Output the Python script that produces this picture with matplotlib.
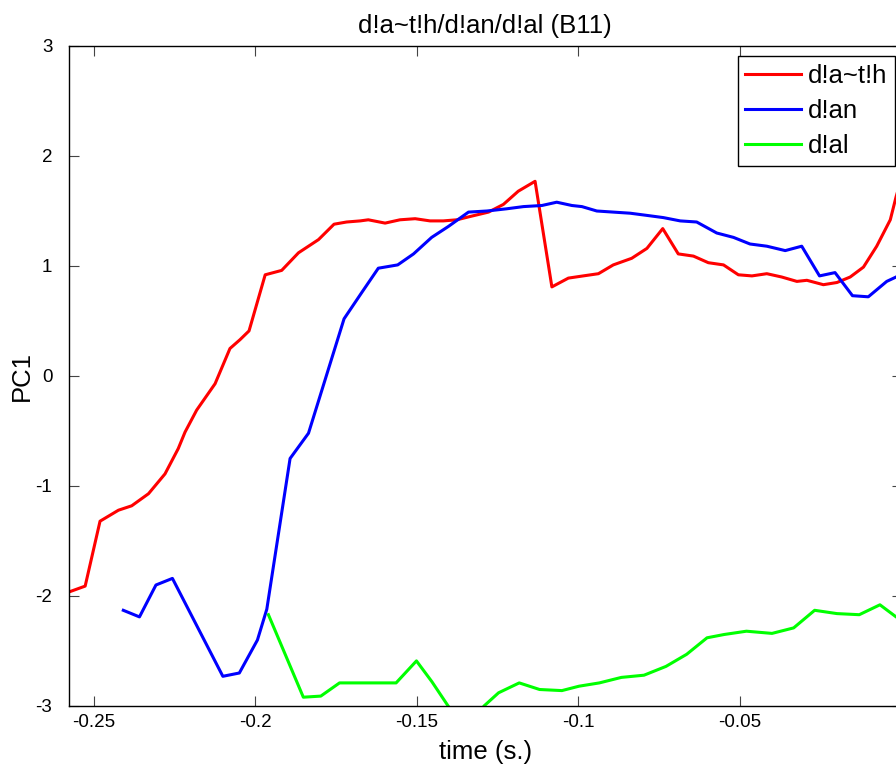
import numpy as np
import matplotlib
matplotlib.use("Agg")
import matplotlib.pyplot as plt

plt.rcParams["font.family"] = ["Liberation Sans", "DejaVu Sans"]
plt.rcParams["axes.unicode_minus"] = False

# d!a~t!h
t_red = [-0.2573, -0.2526, -0.2480, -0.2423, -0.2382, -0.2330, -0.2279, -0.2238,
         -0.2217, -0.2181, -0.2124, -0.2078, -0.2047, -0.2019, -0.1969, -0.1918,
         -0.1866, -0.1804, -0.1756, -0.1717, -0.1675, -0.1650, -0.1598, -0.1552,
         -0.1505, -0.1459, -0.1418, -0.1376, -0.1335, -0.1278, -0.1232, -0.1186,
         -0.1134, -0.1082, -0.1031, -0.0985, -0.0938, -0.0892, -0.0835, -0.0788,
         -0.0739, -0.0691, -0.0644, -0.0598, -0.0551, -0.0505, -0.0463, -0.0417,
         -0.0371, -0.0324, -0.0293, -0.0242, -0.0200, -0.0159, -0.0118, -0.0077,
         -0.0035, -0.0017, 0.0]
v_red = [-1.96, -1.91, -1.32, -1.22, -1.18, -1.07, -0.89, -0.66,
         -0.51, -0.31, -0.07, 0.25, 0.33, 0.41, 0.92, 0.96,
         1.12, 1.24, 1.38, 1.40, 1.41, 1.42, 1.39, 1.42,
         1.43, 1.41, 1.41, 1.42, 1.45, 1.49, 1.56, 1.68,
         1.77, 0.81, 0.89, 0.91, 0.93, 1.01, 1.07, 1.16,
         1.34, 1.11, 1.09, 1.03, 1.01, 0.92, 0.91, 0.93,
         0.90, 0.86, 0.87, 0.83, 0.85, 0.90, 0.99, 1.18,
         1.42, 1.63, 1.80]

# d!an
t_blue = [-0.2408, -0.2358, -0.2307, -0.2256, -0.2100, -0.2049, -0.1993, -0.1964,
          -0.1892, -0.1835, -0.1725, -0.1670, -0.1619, -0.1559, -0.1510, -0.1454,
          -0.1402, -0.1340, -0.1283, -0.1222, -0.1170, -0.1113, -0.1067, -0.1020,
          -0.0989, -0.0943, -0.0892, -0.0840, -0.0788, -0.0737, -0.0685, -0.0634,
          -0.0572, -0.0520, -0.0469, -0.0417, -0.0360, -0.0309, -0.0254, -0.0206,
          -0.0152, -0.0103, -0.0046, -0.0017, 0.0]
v_blue = [-2.13, -2.19, -1.90, -1.84, -2.73, -2.70, -2.40, -2.12,
          -0.75, -0.52, 0.52, 0.76, 0.98, 1.01, 1.11, 1.26,
          1.36, 1.49, 1.50, 1.52, 1.54, 1.55, 1.58, 1.55,
          1.54, 1.50, 1.49, 1.48, 1.46, 1.44, 1.41, 1.40,
          1.30, 1.26, 1.20, 1.18, 1.14, 1.18, 0.91, 0.94,
          0.73, 0.72, 0.86, 0.90, 0.93]

# d!al
t_green = [-0.1959, -0.1851, -0.1797, -0.1739, -0.1675, -0.1564, -0.1501, -0.1453,
           -0.1403, -0.1347, -0.1292, -0.1247, -0.1183, -0.1120, -0.1051, -0.0998,
           -0.0935, -0.0867, -0.0797, -0.0729, -0.0665, -0.0602, -0.0549, -0.0480,
           -0.0401, -0.0334, -0.0269, -0.0200, -0.0131, -0.0067, -0.0017, 0.0]
v_green = [-2.17, -2.92, -2.91, -2.79, -2.79, -2.79, -2.59, -2.78,
           -3.00, -3.25, -3.00, -2.88, -2.79, -2.85, -2.86, -2.82,
           -2.79, -2.74, -2.72, -2.64, -2.53, -2.38, -2.35, -2.32,
           -2.34, -2.29, -2.13, -2.16, -2.17, -2.08, -2.19, -2.22]

x_ticks = [-0.25, -0.2, -0.15, -0.1, -0.05]
x_tick_labels = ["-0.25", "-0.2", "-0.15", "-0.1", "-0.05"]
y_ticks = [-3, -2, -1, 0, 1, 2, 3]

W, H = 896, 772
fig = plt.figure(figsize=(W / 100, H / 100), dpi=100)
ax = fig.add_axes([69 / W, 1 - 706 / H, (901.6 - 69) / W, 660 / H])

ax.plot(t_red, v_red, color=(1, 0, 0), lw=2.2, label="d!a~t!h")
ax.plot(t_blue, v_blue, color=(0, 0, 1), lw=2.2, label="d!an")
ax.plot(t_green, v_green, color=(0, 1, 0), lw=2.2, label="d!al")

ax.set_xlim(-0.2576, 0.0)
ax.set_ylim(-3, 3)
ax.set_xticks(x_ticks)
ax.set_xticklabels(x_tick_labels)
ax.set_yticks(y_ticks)
ax.tick_params(direction="in", length=7, width=0.8, color="#444444",
               labelsize=13.5, top=True, right=True)
ax.tick_params(axis="x", pad=6)
ax.tick_params(axis="y", pad=12)
for s in ax.spines.values():
    s.set_linewidth(1.0)
    s.set_color("black")

ax.set_title("d!a~t!h/d!an/d!al (B11)", fontsize=18.5, pad=9)
ax.set_xlabel("time (s.)", fontsize=18.5, labelpad=6)
ax.set_ylabel("PC1", fontsize=18.5)
ax.yaxis.set_label_coords(-0.042, 0.5)

leg = ax.legend(loc="upper right", bbox_to_anchor=(895 / W, 1 - 56 / H),
                bbox_transform=fig.transFigure, borderaxespad=0,
                fontsize=18.5, handlelength=2.18, handletextpad=0.25,
                borderpad=0.3, labelspacing=0.43, fancybox=False,
                framealpha=1, edgecolor="black")
leg.get_frame().set_linewidth(1.0)

fig.savefig("out.png", dpi=100)
